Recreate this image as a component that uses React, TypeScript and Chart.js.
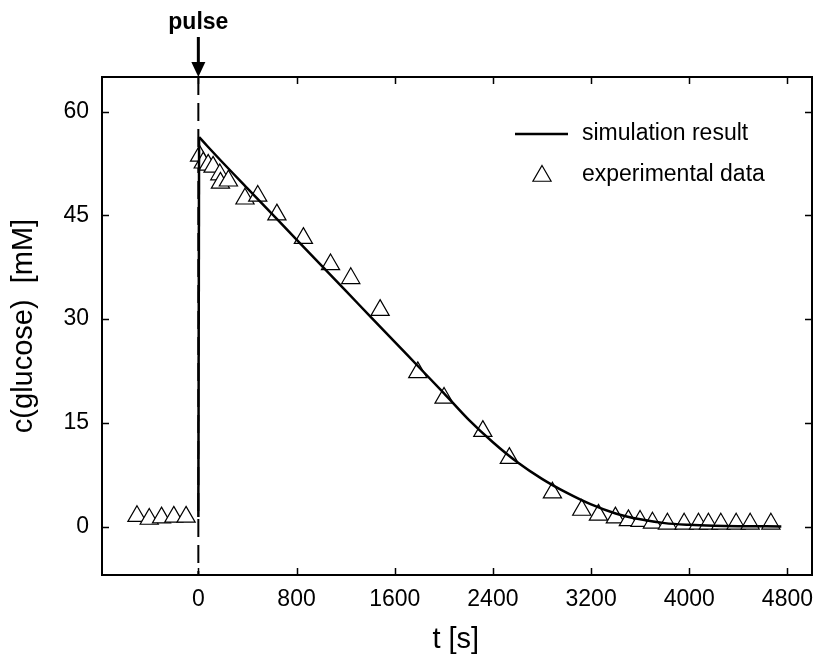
import React, { useEffect, useRef } from "react";
import { Chart, registerables } from "chart.js";

Chart.register(...registerables);

// ---- data ----
const PULSE_T = 0;

// vertical jump of the simulated glucose at the pulse
const simJumpT = [0, 6];
const simJumpC = [1.4, 56.3];

// simulated decay after the pulse
const simT = [6, 200, 400, 600, 800, 1000, 1200, 1400, 1600, 1800, 2000, 2200, 2400, 2600, 2800, 3000, 3200, 3400, 3600, 3800, 4000, 4200, 4400, 4750];
const simC = [56.3, 52.6, 48.9, 45.2, 41.5, 37.8, 34.1, 30.4, 26.7, 23.0, 19.3, 15.5, 12.2, 9.3, 6.9, 4.9, 3.2, 1.9, 1.05, 0.5, 0.25, 0.12, 0.06, 0.03];

const expT = [-500, -400, -300, -200, -100, 10, 40, 80, 120, 175, 180, 245, 380, 484, 640, 856, 1077, 1242, 1481, 1788, 2002, 2318, 2534, 2885, 3124, 3260, 3398, 3504, 3599, 3700, 3822, 3958, 4075, 4156, 4257, 4382, 4496, 4665];
const expC = [1.5, 1.1, 1.3, 1.4, 1.4, 53.6, 52.6, 52.3, 52.0, 50.9, 49.7, 50.0, 47.4, 47.8, 45.1, 41.7, 37.9, 35.9, 31.3, 22.3, 18.6, 13.8, 9.9, 4.9, 2.4, 1.7, 1.3, 0.9, 0.8, 0.55, 0.4, 0.4, 0.4, 0.4, 0.4, 0.4, 0.4, 0.4];

const xTicks = [0, 800, 1600, 2400, 3200, 4000, 4800];
const yTicks = [0, 15, 30, 45, 60];

const X_MIN = -785;
const X_MAX = 5000;
const Y_MIN = -7;
const Y_MAX = 65;

const SIM_LABEL = "simulation result";
const EXP_LABEL = "experimental data";
const X_TITLE = "t [s]";
const Y_TITLE = "c(glucose)  [mM]";
const PULSE_LABEL = "pulse";

const FONT = "'Liberation Sans', Arial, Helvetica, sans-serif";

function drawTriangle(ctx: CanvasRenderingContext2D, x: number, y: number, r: number) {
  const TWO_THIRDS_PI = (2 * Math.PI) / 3;
  let rad = 0;
  ctx.beginPath();
  ctx.moveTo(x + Math.sin(rad) * r, y - Math.cos(rad) * r);
  rad += TWO_THIRDS_PI;
  ctx.lineTo(x + Math.sin(rad) * r, y - Math.cos(rad) * r);
  rad += TWO_THIRDS_PI;
  ctx.lineTo(x + Math.sin(rad) * r, y - Math.cos(rad) * r);
  ctx.closePath();
  ctx.fillStyle = "#fff";
  ctx.fill();
  ctx.strokeStyle = "#000";
  ctx.lineWidth = 1.2;
  ctx.stroke();
}

const decorPlugin = {
  id: "decor",
  beforeDatasetsDraw(chart: any) {
    const { ctx, chartArea, scales } = chart;
    const px = scales.x.getPixelForValue(PULSE_T);
    ctx.save();
    ctx.strokeStyle = "#000";
    ctx.lineWidth = 2;
    ctx.setLineDash([18, 8]);
    ctx.beginPath();
    ctx.moveTo(px, chartArea.top);
    ctx.lineTo(px, chartArea.bottom);
    ctx.stroke();
    ctx.restore();
  },
  afterDraw(chart: any) {
    const { ctx, chartArea, scales } = chart;
    const { left, right, top, bottom } = chartArea;
    ctx.save();
    // frame
    ctx.strokeStyle = "#000";
    ctx.lineWidth = 2;
    ctx.setLineDash([]);
    ctx.strokeRect(left, top, right - left, bottom - top);
    // inward ticks
    const TL = 7;
    ctx.lineWidth = 1.5;
    ctx.beginPath();
    xTicks.forEach((v) => {
      const x = Math.round(scales.x.getPixelForValue(v)) + 0.5;
      ctx.moveTo(x, bottom);
      ctx.lineTo(x, bottom - TL);
      ctx.moveTo(x, top);
      ctx.lineTo(x, top + TL);
    });
    yTicks.forEach((v) => {
      const y = Math.round(scales.y.getPixelForValue(v)) + 0.5;
      ctx.moveTo(left, y);
      ctx.lineTo(left + TL, y);
      ctx.moveTo(right, y);
      ctx.lineTo(right - TL, y);
    });
    ctx.stroke();

    // legend
    ctx.fillStyle = "#000";
    ctx.font = `23px ${FONT}`;
    ctx.textBaseline = "middle";
    ctx.textAlign = "left";
    ctx.lineWidth = 2.5;
    ctx.beginPath();
    ctx.moveTo(515, 134);
    ctx.lineTo(568, 134);
    ctx.stroke();
    ctx.fillText(SIM_LABEL, 582, 134);
    drawTriangle(ctx, 542, 176, 10.5);
    ctx.fillStyle = "#000";
    ctx.fillText(EXP_LABEL, 582, 175);

    // axis titles
    ctx.font = `29px ${FONT}`;
    ctx.textAlign = "center";
    ctx.textBaseline = "middle";
    ctx.fillText(X_TITLE, scales.x.getPixelForValue(2000) + 12, 640);
    ctx.save();
    ctx.translate(24, 326);
    ctx.rotate(-Math.PI / 2);
    ctx.fillText(Y_TITLE, 0, 0);
    ctx.restore();

    // pulse arrow
    const px = scales.x.getPixelForValue(PULSE_T);
    ctx.font = `bold 23px ${FONT}`;
    ctx.textBaseline = "alphabetic";
    ctx.fillText(PULSE_LABEL, px, 29);
    ctx.lineWidth = 3;
    ctx.beginPath();
    ctx.moveTo(px, 37);
    ctx.lineTo(px, 64);
    ctx.stroke();
    ctx.beginPath();
    ctx.moveTo(px - 7, 62);
    ctx.lineTo(px + 7, 62);
    ctx.lineTo(px, top);
    ctx.closePath();
    ctx.fill();
    ctx.restore();
  },
};

export default function App() {
  const ref = useRef<HTMLCanvasElement | null>(null);

  useEffect(() => {
    if (!ref.current) return;
    const chart = new Chart(ref.current, {
      type: "scatter",
      data: {
        datasets: [
          {
            type: "line",
            label: SIM_LABEL,
            data: simJumpT.map((t, i) => ({ x: t, y: simJumpC[i] })),
            borderColor: "#000",
            borderWidth: 2.5,
            pointRadius: 0,
            tension: 0,
            fill: false,
            order: 0,
          } as any,
          {
            type: "line",
            label: SIM_LABEL,
            data: simT.map((t, i) => ({ x: t, y: simC[i] })),
            borderColor: "#000",
            borderWidth: 2.5,
            pointRadius: 0,
            cubicInterpolationMode: "monotone",
            fill: false,
            order: 0,
          } as any,
          {
            type: "scatter",
            label: EXP_LABEL,
            data: expT.map((t, i) => ({ x: t, y: expC[i] })),
            pointStyle: "triangle",
            pointRadius: 10.5,
            pointBackgroundColor: "#fff",
            pointBorderColor: "#000",
            pointBorderWidth: 1.2,
            showLine: false,
            order: 1,
          } as any,
        ],
      },
      options: {
        animation: false,
        responsive: true,
        maintainAspectRatio: false,
        events: [],
        layout: { autoPadding: false, padding: { left: 0, right: 2, top: 77, bottom: 0 } } as any,
        plugins: { legend: { display: false }, tooltip: { enabled: false } },
        scales: {
          x: {
            type: "linear",
            min: X_MIN,
            max: X_MAX,
            grid: { display: false, drawTicks: false },
            border: { display: false },
            afterBuildTicks: (scale: any) => {
              scale.ticks = xTicks.map((v) => ({ value: v }));
            },
            afterFit: (scale: any) => {
              scale.height = 89;
              scale.paddingLeft = 0;
              scale.paddingRight = 0;
            },
            ticks: {
              padding: 11,
              color: "#000",
              font: { family: FONT, size: 23 },
              maxRotation: 0,
              autoSkip: false,
              callback: (v: any) => String(v),
            },
          },
          y: {
            type: "linear",
            min: Y_MIN,
            max: Y_MAX,
            grid: { display: false, drawTicks: false },
            border: { display: false },
            afterBuildTicks: (scale: any) => {
              scale.ticks = yTicks.map((v) => ({ value: v }));
            },
            afterFit: (scale: any) => {
              scale.width = 102;
              scale.paddingTop = 0;
              scale.paddingBottom = 0;
            },
            ticks: {
              padding: 13,
              color: "#000",
              font: { family: FONT, size: 23 },
              autoSkip: false,
              callback: (v: any) => String(v),
            },
          },
        },
      },
      plugins: [decorPlugin],
    });
    return () => chart.destroy();
  }, []);

  return (
    <div style={{ position: "fixed", left: 0, top: 0, width: 814, height: 664, background: "#fff" }}>
      <canvas ref={ref} />
    </div>
  );
}
